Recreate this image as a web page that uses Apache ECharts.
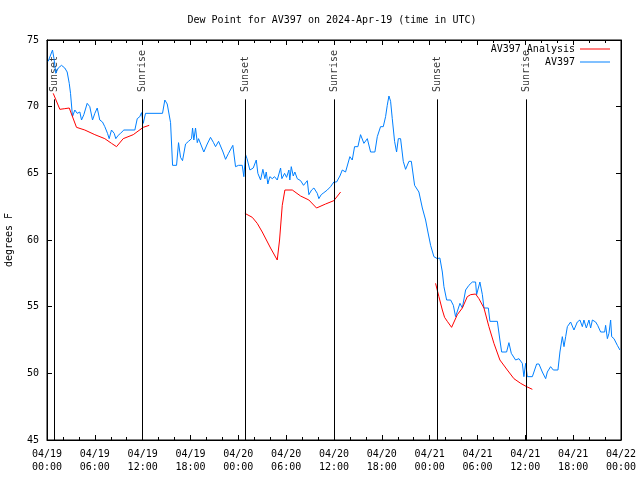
<!DOCTYPE html>
<html><head><meta charset="utf-8">
<script src="https://cdn.jsdelivr.net/npm/echarts@6/dist/echarts.min.js"></script>
<style>html,body{margin:0;padding:0;background:#fff}#c{width:640px;height:480px}</style>
</head><body><div id="c"></div>
<script>
// hours since 2024-04-19 00:00 UTC
const blueHours = [0.15,0.69,0.88,1.10,1.41,1.82,2.23,2.53,2.79,2.95,3.20,3.49,3.79,4.12,4.33,4.62,5.04,5.37,5.71,6.00,6.30,6.62,6.96,7.25,7.59,7.80,8.09,8.43,8.63,8.93,9.22,9.64,11.02,11.32,11.64,11.86,12.07,12.36,14.49,14.78,15.08,15.28,15.50,15.75,16.25,16.50,16.75,17.00,17.38,17.75,18.13,18.26,18.42,18.63,18.85,19.01,19.26,19.67,20.10,20.51,20.89,21.14,21.52,21.77,22.08,22.40,22.77,23.31,23.65,24.03,24.49,24.69,24.91,25.09,25.45,25.87,26.25,26.45,26.79,27.08,27.33,27.50,27.70,27.95,28.26,28.54,28.88,29.30,29.46,29.80,30.05,30.34,30.46,30.64,30.89,31.09,31.39,31.81,32.18,32.65,32.85,33.19,33.48,33.69,33.90,34.10,34.40,34.73,35.16,35.57,35.98,36.32,36.74,37.04,37.45,37.67,37.99,38.29,38.58,39.00,39.33,39.55,39.75,40.18,40.59,41.13,41.43,41.84,42.18,42.47,42.68,42.89,43.10,43.31,43.60,43.85,44.07,44.35,44.69,44.98,45.40,45.70,46.11,46.65,47.08,47.49,47.78,48.12,48.53,48.96,49.28,49.59,49.79,50.13,50.63,50.97,51.25,51.47,51.80,52.10,52.51,52.92,53.35,53.76,53.89,54.30,54.61,54.81,55.36,55.56,56.49,56.81,57.03,57.65,57.94,58.24,58.78,59.20,59.62,59.82,60.04,60.25,60.88,61.42,61.71,62.13,62.55,62.76,63.17,63.51,64.09,64.34,64.64,64.85,65.06,65.27,65.68,65.90,66.10,66.52,66.85,67.15,67.35,67.65,67.98,68.19,68.41,68.82,69.07,69.45,69.95,70.07,70.29,70.49,70.70,70.83,71.12,71.54,71.87];
const blueValues = [73.4,74.25,73.6,72.5,72.9,73.1,72.9,72.6,71.75,71.0,69.25,69.75,69.5,69.6,69.0,69.4,70.25,70.0,69.0,69.5,69.9,69.0,68.85,68.5,68.0,67.6,68.25,68.0,67.6,67.85,68.0,68.25,68.25,69.1,69.25,69.55,68.75,69.5,69.5,70.5,70.2,70.1,68.8,65.6,65.6,67.3,66.2,65.95,67.2,67.4,67.6,68.4,67.5,68.4,67.3,67.6,67.55,66.6,67.2,67.7,67.3,67.0,67.4,67.4,66.6,66.05,66.5,67.1,65.5,65.6,65.6,64.75,66.4,66.1,65.25,65.4,66.0,65.0,64.5,65.3,64.6,65.1,64.2,64.75,64.6,64.75,64.5,65.4,64.6,65.0,64.7,65.25,64.5,65.5,64.8,65.1,64.6,64.45,64.1,64.45,63.4,63.75,63.9,64.0,63.5,63.1,63.4,63.55,63.75,64.0,64.35,64.35,64.8,65.25,65.1,65.25,66.25,66.0,67.0,67.0,67.9,67.85,67.25,67.6,66.6,66.6,67.75,68.5,68.5,69.25,70.1,70.8,70.4,69.1,67.4,66.6,67.6,67.6,65.9,65.3,65.9,65.9,64.1,63.6,62.4,61.5,60.6,59.6,58.75,58.6,58.65,57.6,56.5,55.5,55.5,55.1,54.25,54.4,55.25,54.9,56.25,56.6,56.85,56.85,55.9,56.85,55.9,54.9,54.9,53.9,53.9,52.5,51.6,51.6,52.3,51.5,51.0,51.1,50.75,49.75,50.75,49.75,49.75,50.7,50.7,50.1,49.6,50.1,50.5,50.25,50.25,51.6,52.75,52.0,52.75,53.5,53.85,54.0,53.25,53.85,54.0,53.5,54.0,53.4,54.0,53.4,54.0,53.85,53.6,53.1,53.1,53.6,52.6,53.0,54.0,52.75,52.6,52.1,51.75];

const redHours1 = [0.78,1.61,2.23,2.79,3.70,4.74,6.00,7.25,8.09,8.72,9.56,10.82,12.07,12.82];
const redValues1 = [71.0,69.8,69.85,69.9,68.45,68.25,67.9,67.6,67.25,67.0,67.6,67.9,68.45,68.6];
const redHours2 = [24.82,25.75,26.37,27.00,28.04,28.88,29.17,29.51,29.84,30.77,31.81,32.85,33.81,34.94,35.98,36.83];
const redValues2 = [62.0,61.7,61.25,60.6,59.4,58.5,60.0,62.6,63.75,63.75,63.3,63.0,62.4,62.7,62.95,63.6];
const redHours3 = [48.74,49.16,49.59,49.87,50.21,50.75,51.47,52.10,52.72,53.14,53.76,54.18,54.81,55.43,56.06,56.81,57.74,58.57,59.41,60.16,60.88];
const redValues3 = [56.75,55.75,54.75,54.2,53.9,53.45,54.4,54.9,55.75,55.9,55.95,55.6,54.9,53.5,52.25,51.0,50.25,49.6,49.25,49.0,48.8];

const sunHours = [0.92,11.95,24.88,36.03,48.96,60.13];
const sunLabels = ['Sunset','Sunrise','Sunset','Sunrise','Sunset','Sunrise'];

const xTickDates = ['04/19','04/19','04/19','04/19','04/20','04/20','04/20','04/20','04/21','04/21','04/21','04/21','04/22'];
const xTickTimes = ['00:00','06:00','12:00','18:00','00:00','06:00','12:00','18:00','00:00','06:00','12:00','18:00','00:00'];

const FONT = 'DejaVu Sans Mono';
const zip = (a,b) => a.map((v,i)=>[v,b[i]]);

const chart = echarts.init(document.getElementById('c'), null, {renderer:'canvas'});
const axisCommon = {
  axisLine:{show:true,onZero:false,lineStyle:{color:'#000',width:1}},
  splitLine:{show:false}
};
const sunLineTop = 70.55, sunLabelBase = 71.1;
const legendCommon = {orient:'vertical',align:'right',itemWidth:30,itemHeight:1,padding:0,icon:'rect',
  textStyle:{fontFamily:FONT,fontSize:10,color:'#000'}};

chart.setOption({
  animation:false,
  backgroundColor:'#fff',
  textStyle:{fontFamily:FONT,color:'#000'},
  title:{text:'Dew Point for AV397 on 2024-Apr-19 (time in UTC)',left:327,textAlign:'center',top:10,
    textStyle:{fontFamily:FONT,fontSize:10,fontWeight:'normal',color:'#000'}},
  legend:[
    Object.assign({data:['AV397 Analysis'],right:30,top:44},legendCommon),
    Object.assign({data:['AV397'],right:30,top:57},legendCommon)
  ],
  grid:{left:47,right:19,top:40,bottom:40,outerBoundsMode:'none',containLabel:false,show:true,borderColor:'#000',borderWidth:1,backgroundColor:'transparent'},
  xAxis:[
    Object.assign({type:'value',min:0,max:72,interval:6,position:'bottom',
      axisTick:{show:true,inside:true,length:5,lineStyle:{color:'#000'}},
      minorTick:{show:true,splitNumber:3,length:3,lineStyle:{color:'#000'}},
      axisLabel:{fontFamily:FONT,fontSize:10,color:'#000',margin:8,lineHeight:13,
        formatter:v=>{const i=Math.round(v/6);return xTickDates[i]+'\n'+xTickTimes[i];}}},axisCommon),
    Object.assign({type:'value',min:0,max:72,interval:6,position:'top',
      axisTick:{show:true,inside:true,length:5,lineStyle:{color:'#000'}},
      minorTick:{show:true,splitNumber:3,length:3,lineStyle:{color:'#000'}},
      axisLabel:{show:false}},axisCommon)
  ],
  yAxis:[
    Object.assign({type:'value',min:45,max:75,interval:5,position:'left',
      name:'degrees F',nameLocation:'middle',nameGap:33,nameRotate:90,
      nameTextStyle:{fontFamily:FONT,fontSize:10,color:'#000'},
      axisTick:{show:true,inside:true,length:5,lineStyle:{color:'#000'}},
      axisLabel:{fontFamily:FONT,fontSize:10,color:'#000',margin:8}},axisCommon),
    Object.assign({type:'value',min:45,max:75,interval:5,position:'right',
      axisTick:{show:true,inside:true,length:5,lineStyle:{color:'#000'}},
      axisLabel:{show:false}},axisCommon)
  ],
  series:[
    {name:'sun',type:'scatter',symbolSize:0,silent:true,z:1,
     data:sunHours.map((h,i)=>({value:[h,sunLabelBase],label:{formatter:sunLabels[i]}})),
     label:{show:true,position:'inside',rotate:90,align:'left',verticalAlign:'middle',
       fontFamily:FONT,fontSize:10,color:'#000'},
     markLine:{silent:true,symbol:['none','none'],label:{show:false},
       lineStyle:{color:'#000',width:1,type:'solid'},
       data:sunHours.map(h=>[{coord:[h,45]},{coord:[h,sunLineTop]}])}},
    {name:'AV397 Analysis',type:'line',symbol:'none',z:3,color:'#ff0000',lineStyle:{width:1,color:'#ff0000'},
     data:zip(redHours1,redValues1)},
    {name:'AV397 Analysis',type:'line',symbol:'none',z:3,color:'#ff0000',lineStyle:{width:1,color:'#ff0000'},
     data:zip(redHours2,redValues2)},
    {name:'AV397 Analysis',type:'line',symbol:'none',z:3,color:'#ff0000',lineStyle:{width:1,color:'#ff0000'},
     data:zip(redHours3,redValues3)},
    {name:'AV397',type:'line',symbol:'none',z:2,color:'#0080ff',lineStyle:{width:1,color:'#0080ff'},
     data:zip(blueHours,blueValues)}
  ]
});
</script></body></html>
